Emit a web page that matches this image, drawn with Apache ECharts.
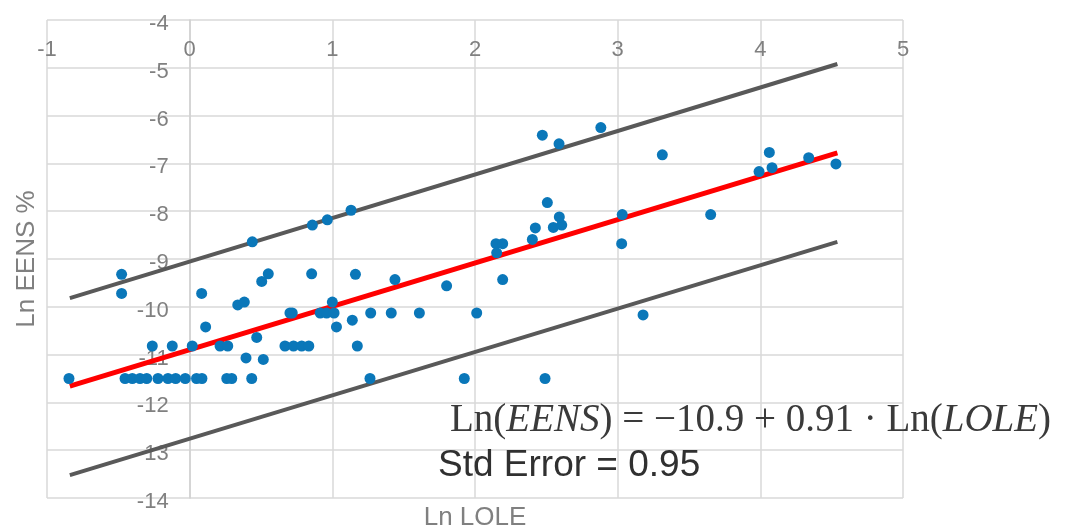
<!DOCTYPE html>
<html>
<head>
<meta charset="utf-8">
<title>Ln EENS vs Ln LOLE</title>
<script src="https://cdn.jsdelivr.net/npm/echarts@6/dist/echarts.min.js"></script>
<style>
  html, body { margin: 0; padding: 0; background: #fff; }
  #main { width: 1066px; height: 529px; }
</style>
</head>
<body>
<div id="main"></div>
<script>
var lnLole = [
  -0.846, -0.477, -0.477,
  -0.453, -0.402, -0.348, -0.301, -0.222, -0.152, -0.098, -0.031, 0.048, 0.086, 0.260, 0.295, 0.435,
  -0.262, -0.122, 0.018, 0.213, 0.267, 0.668, 0.728, 0.785, 0.835, 1.175,
  0.084, 0.112, 0.337, 0.383, 0.470, 0.395, 0.516, 0.505, 0.551,
  0.439, 0.860, 0.965, 1.131, 0.855, 1.162, 1.000,
  0.703, 0.719, 0.915, 0.960, 1.012, 1.269, 1.413, 1.610, 2.012,
  1.029, 1.140, 1.439, 1.801, 1.264, 1.925, 2.491,
  2.194, 2.147, 2.194, 2.152, 2.402, 2.423, 2.507, 2.549, 2.608, 2.591,
  2.472, 2.589, 2.882, 3.032, 3.028, 3.313, 3.178,
  3.652, 3.991, 4.063, 4.082, 4.339, 4.530
];
var lnEens = [
  -11.50, -9.32, -9.72,
  -11.5, -11.5, -11.5, -11.5, -11.5, -11.5, -11.5, -11.5, -11.5, -11.5, -11.5, -11.5, -11.5,
  -10.82, -10.82, -10.82, -10.82, -10.82, -10.82, -10.82, -10.82, -10.82, -10.82,
  -9.72, -10.42, -9.96, -9.90, -10.64, -11.07, -11.10, -9.47, -9.31,
  -8.64, -8.29, -8.18, -7.98, -9.31, -9.32, -9.90,
  -10.13, -10.13, -10.13, -10.13, -10.13, -10.13, -10.13, -10.13, -10.13,
  -10.42, -10.28, -9.43, -9.56, -11.5, -11.5, -11.5,
  -9.43, -8.68, -8.68, -8.87, -8.59, -8.35, -7.82, -8.34, -8.29, -8.12,
  -6.41, -6.59, -6.25, -8.07, -8.68, -6.82, -10.17,
  -8.07, -7.17, -6.77, -7.09, -6.88, -7.01
];

// fitted line and +/- band end points
var fitX = [-0.84, 4.54];
var fitY = [-11.66, -6.78];
var upperY = [-9.82, -4.92];
var lowerY = [-13.52, -8.64];

var xTicks = { min: -1, max: 5, step: 1 };
var yTicks = { min: -14, max: -4, step: 1 };

var labelColor = '#808080';
var gridColor = '#d9d9d9';
var sans = '"Liberation Sans", Arial, sans-serif';
var serif = '"Liberation Serif", "Times New Roman", serif';

// plot area
var plotLeft = 47, plotRight = 903;
// the vertical axis sits on Ln LOLE = 0, like in the spreadsheet
var yAxisShift = -(0 - xTicks.min) / (xTicks.max - xTicks.min) * (plotRight - plotLeft);

function pairs(xs, ys) {
  var out = [];
  for (var i = 0; i < xs.length; i++) out.push([xs[i], ys[i]]);
  return out;
}

var chart = echarts.init(document.getElementById('main'));

var option = {
  backgroundColor: '#fff',
  animation: false,
  grid: {
    left: plotLeft, right: 1066 - plotRight, top: 20, bottom: 31,
    outerBoundsMode: 'none'
  },
  xAxis: [{
    type: 'value',
    position: 'top',
    min: xTicks.min, max: xTicks.max, interval: xTicks.step,
    axisLine: { show: false, onZero: false },
    axisTick: { show: false },
    axisLabel: { inside: true, margin: 19, color: labelColor, fontSize: 22, fontFamily: sans },
    splitLine: { show: true, lineStyle: { color: gridColor, width: 1.5 } }
  }, {
    type: 'value',
    position: 'bottom',
    min: xTicks.min, max: xTicks.max,
    axisLine: { show: false, onZero: false },
    axisTick: { show: false },
    axisLabel: { show: false },
    splitLine: { show: false },
    name: 'Ln LOLE',
    nameLocation: 'middle',
    nameGap: 7,
    nameTextStyle: { color: labelColor, fontSize: 26, fontFamily: sans }
  }],
  yAxis: [{
    type: 'value',
    position: 'left',
    offset: yAxisShift,
    min: yTicks.min, max: yTicks.max, interval: yTicks.step,
    axisLine: { show: true, onZero: false, lineStyle: { color: '#d0d0d0', width: 1.5 } },
    axisTick: { show: false },
    axisLabel: {
      margin: 21, verticalAlign: 'top', lineHeight: 8,
      color: labelColor, fontSize: 22, fontFamily: sans
    },
    splitLine: { show: true, lineStyle: { color: gridColor, width: 1.5 } }
  }, {
    type: 'value',
    position: 'left',
    min: yTicks.min, max: yTicks.max,
    axisLine: { show: false, onZero: false },
    axisTick: { show: false },
    axisLabel: { show: false },
    splitLine: { show: false },
    name: 'Ln EENS %',
    nameLocation: 'middle',
    nameGap: 7,
    nameRotate: 90,
    nameTextStyle: { color: labelColor, fontSize: 26, fontFamily: sans }
  }],
  series: [{
    type: 'line',
    data: pairs(fitX, upperY),
    symbol: 'none',
    lineStyle: { color: '#595959', width: 4 },
    z: 2
  }, {
    type: 'line',
    data: pairs(fitX, lowerY),
    symbol: 'none',
    lineStyle: { color: '#595959', width: 4 },
    z: 2
  }, {
    type: 'line',
    data: pairs(fitX, fitY),
    symbol: 'none',
    lineStyle: { color: '#ff0000', width: 5 },
    z: 2
  }, {
    type: 'scatter',
    data: pairs(lnLole, lnEens),
    symbolSize: 11,
    itemStyle: { color: '#0a77b9', opacity: 1 },
    z: 3
  }],
  graphic: [{
    type: 'text',
    left: 450,
    top: 401,
    z: 10,
    style: {
      text: '{n|Ln(}{i|EENS}{n|) = −10.9 + 0.91 · Ln(}{i|LOLE}{n|)}',
      fill: '#3a3a3a',
      rich: {
        n: { fontFamily: serif, fontSize: 39, fill: '#3a3a3a' },
        i: { fontFamily: serif, fontStyle: 'italic', fontSize: 39, fill: '#3a3a3a' }
      }
    }
  }, {
    type: 'text',
    left: 438,
    top: 447,
    z: 10,
    style: {
      text: 'Std Error = 0.95',
      fill: '#303030',
      font: '37px ' + sans
    }
  }]
};

chart.setOption(option);
</script>
</body>
</html>
